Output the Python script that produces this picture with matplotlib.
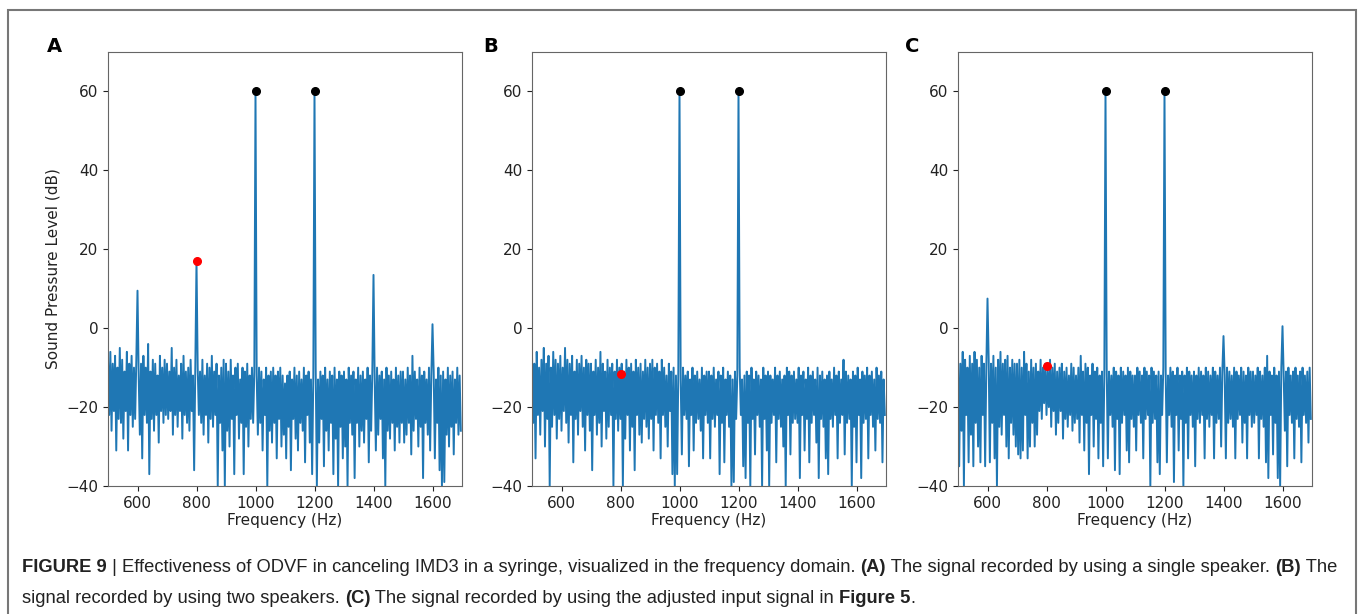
import matplotlib
matplotlib.use('Agg')
import matplotlib.pyplot as plt
from matplotlib.patches import Rectangle
import numpy as np

# noise floor (dB), 4 Hz steps from 500 Hz, one row per 200 Hz
noise_a = [
    -8, -22, -6, -26, -9, -21, -7, -31, -10, -23, -5, -24, -8, -28, -11, -21, -6, -31, -9, -22, -7, -25, -10, -23, -8,
    -22, -12, -27, -9, -33, -7, -22, -10, -24, -4, -37, -11, -23, -8, -26, -9, -22, -12, -29, -7, -21, -10, -24, -8, -22,
    -9, -23, -11, -21, -5, -27, -10, -22, -8, -25, -12, -21, -9, -28, -7, -22, -11, -24, -10, -26, -8, -21, -12, -36, -9,
    -23, -10, -22, -11, -24, -8, -27, -12, -22, -9, -29, -10, -23, -7, -25, -11, -22, -9, -40, -12, -24, -10, -31, -8, -40,
    -9, -26, -11, -30, -8, -23, -12, -37, -10, -22, -9, -28, -13, -24, -10, -37, -11, -25, -9, -30, -12, -23, -10, -24, -11,
    -38, -12, -27, -10, -24, -11, -31, -13, -22, -10, -40, -12, -26, -11, -29, -10, -24, -12, -33, -11, -23, -10, -30, -12, -27,
    -14, -33, -12, -25, -11, -36, -13, -23, -10, -28, -12, -31, -11, -24, -13, -26, -10, -34, -12, -22, -11, -29, -13, -37, -12,
    -24, -10, -40, -13, -29, -11, -23, -12, -35, -10, -26, -13, -31, -11, -24, -12, -37, -10, -28, -13, -40, -11, -25, -12, -33,
    -11, -30, -13, -40, -10, -24, -12, -27, -11, -38, -13, -24, -10, -30, -12, -26, -11, -29, -13, -23, -10, -34, -12, -26, -11,
    -25, -13, -31, -10, -27, -12, -23, -11, -33, -13, -40, -10, -26, -12, -28, -11, -24, -13, -31, -10, -25, -12, -29, -11, -24,
    -11, -29, -13, -27, -10, -24, -12, -32, -7, -26, -11, -23, -13, -30, -10, -25, -12, -38, -11, -24, -13, -27, -10, -31, -12,
    -26, -11, -33, -13, -24, -10, -36, -12, -40, -11, -39, -13, -27, -10, -30, -12, -25, -11, -32, -13, -24, -10, -27, -12, -26,
]
noise_b = [
    -7, -24, -9, -33, -6, -22, -10, -27, -8, -21, -5, -30, -9, -23, -7, -40, -10, -25, -6, -22, -8, -28, -9, -23, -7,
    -26, -10, -21, -5, -24, -8, -29, -9, -22, -7, -34, -11, -23, -8, -27, -9, -21, -7, -25, -10, -31, -8, -22, -9, -26,
    -9, -36, -11, -22, -8, -27, -10, -24, -6, -30, -9, -21, -11, -28, -8, -25, -10, -22, -9, -40, -11, -23, -8, -26, -10,
    -23, -9, -40, -11, -28, -8, -22, -10, -31, -9, -25, -11, -36, -8, -22, -10, -27, -9, -29, -11, -23, -8, -25, -10, -28,
    -9, -23, -8, -31, -10, -22, -9, -24, -11, -33, -8, -22, -10, -25, -12, -30, -9, -21, -11, -37, -10, -40, -12, -37, -11,
    -24, -13, -32, -10, -22, -12, -23, -11, -35, -13, -22, -10, -31, -12, -24, -11, -23, -13, -26, -10, -33, -12, -22, -11, -24,
    -11, -33, -12, -23, -10, -25, -13, -22, -11, -37, -12, -24, -10, -34, -13, -22, -11, -25, -12, -40, -13, -39, -11, -23, -12,
    -24, -10, -22, -13, -35, -12, -38, -11, -24, -12, -40, -10, -23, -13, -32, -11, -22, -12, -25, -13, -40, -10, -23, -12, -31,
    -11, -40, -12, -24, -13, -22, -10, -34, -12, -23, -11, -25, -13, -30, -12, -40, -10, -22, -11, -32, -12, -24, -11, -23, -13,
    -24, -10, -38, -12, -22, -11, -31, -13, -23, -10, -34, -12, -24, -11, -22, -13, -29, -10, -38, -12, -23, -11, -25, -13, -33,
    -12, -37, -11, -23, -13, -25, -10, -22, -12, -33, -11, -24, -13, -22, -8, -32, -11, -24, -12, -23, -13, -40, -11, -25, -12,
    -34, -10, -22, -13, -38, -11, -24, -12, -23, -10, -33, -12, -22, -11, -25, -13, -31, -10, -23, -12, -24, -11, -34, -13, -22,
]
noise_c = [
    -7, -35, -9, -26, -6, -40, -8, -22, -10, -34, -7, -27, -9, -35, -6, -24, -8, -30, -10, -34, -7, -22, -9, -35, -10,
    -30, -8, -34, -9, -24, -7, -33, -10, -40, -8, -25, -6, -27, -9, -22, -8, -30, -7, -33, -10, -24, -8, -27, -9, -30,
    -9, -32, -8, -33, -10, -31, -6, -22, -9, -33, -11, -30, -8, -24, -10, -30, -9, -27, -11, -21, -8, -23, -10, -19, -9,
    -22, -11, -20, -8, -25, -10, -21, -9, -27, -11, -24, -10, -21, -9, -28, -11, -23, -10, -25, -12, -22, -9, -26, -10, -24,
    -12, -23, -10, -29, -7, -22, -11, -31, -9, -24, -10, -37, -12, -22, -9, -30, -11, -23, -10, -33, -12, -24, -11, -35, -12,
    -23, -10, -33, -11, -22, -12, -25, -10, -36, -11, -23, -12, -37, -10, -24, -11, -22, -12, -31, -10, -34, -11, -23, -12, -25,
    -12, -31, -10, -22, -11, -24, -12, -33, -10, -23, -11, -22, -12, -40, -10, -24, -11, -23, -12, -34, -11, -37, -12, -22, -10,
    -23, -11, -34, -12, -22, -10, -25, -11, -39, -12, -22, -10, -31, -12, -23, -11, -40, -12, -24, -10, -33, -11, -22, -12, -25,
    -11, -35, -12, -23, -10, -24, -11, -22, -12, -33, -10, -23, -11, -25, -12, -22, -10, -33, -11, -24, -12, -23, -10, -30, -11,
    -22, -12, -33, -10, -24, -11, -23, -12, -25, -10, -33, -11, -23, -12, -22, -10, -29, -11, -24, -12, -33, -10, -22, -11, -25,
    -11, -24, -12, -22, -10, -33, -11, -23, -12, -25, -10, -34, -7, -38, -11, -22, -12, -32, -10, -24, -12, -38, -11, -40, -10,
    -23, -12, -26, -11, -35, -10, -22, -12, -24, -11, -33, -10, -23, -12, -25, -11, -34, -10, -22, -12, -24, -11, -29, -10, -23,
]

# tonal peaks (Hz, dB)
tones_a = [600, 800, 1000, 1200, 1400, 1600]
levels_a = [9.5, 17, 60, 60, 13.5, 1]
tones_b = [1000, 1200]
levels_b = [60, 60]
tones_c = [600, 1000, 1200, 1400, 1600]
levels_c = [7.5, 60, 60, -2, 0.5]

# marked points: input tones (black) and IMD3 product at 800 Hz (red)
fund_freqs = [1000, 1200]
fund_levels = [60, 60]
imd3_freq = 800
imd3_levels = [17, -11.5, -9.5]

panels = [
    ('A', noise_a, tones_a, levels_a),
    ('B', noise_b, tones_b, levels_b),
    ('C', noise_c, tones_c, levels_c),
]

fig = plt.figure(figsize=(13.58, 6.14), dpi=100)

# outer frame of the figure box
fig.patches.append(Rectangle((8 / 1358, -0.05), 1348 / 1358, 1.05 - 10 / 614,
                             transform=fig.transFigure, fill=False,
                             edgecolor='#777777', linewidth=1.5))

lefts = [108, 532, 958]
letter_x = [47, 483, 905]
for i, (name, noise, tones, levels) in enumerate(panels):
    assert len(noise) == 300, (name, len(noise))
    freq = 500 + 4 * np.arange(len(noise))
    ax = fig.add_axes([lefts[i] / 1358, 1 - 486 / 614, 354 / 1358, 434 / 614])
    y = np.array(noise, dtype=float)
    for f, lv in zip(tones, levels):
        y[np.argmin(np.abs(freq - f))] = lv
    ax.plot(freq, y, color='#1f77b4', linewidth=1.4)
    ax.plot(fund_freqs, fund_levels, 'o', color='black', markersize=5.5)
    ax.plot([imd3_freq], [imd3_levels[i]], 'o', color='red', markersize=5.5)
    ax.set_xlim(500, 1700)
    ax.set_ylim(-40, 70)
    ax.set_xticks([600, 800, 1000, 1200, 1400, 1600])
    ax.set_yticks([-40, -20, 0, 20, 40, 60])
    ax.tick_params(labelsize=11, colors='#222222', length=3.5)
    for s in ax.spines.values():
        s.set_color('#666666')
    ax.set_xlabel('Frequency (Hz)', fontsize=11, color='#222222', labelpad=2)
    if i == 0:
        ax.set_ylabel('Sound Pressure Level (dB)', fontsize=11, color='#222222')
    fig.text(letter_x[i] / 1358, 1 - 52 / 614, name, fontsize=14, fontweight='bold',
             ha='left', va='baseline')

# caption with bold runs
cap_lines = [
    [('FIGURE 9', True), (' | Effectiveness of ODVF in canceling IMD3 in a syringe, visualized in the frequency domain. ', False),
     ('(A)', True), (' The signal recorded by using a single speaker. ', False), ('(B)', True), (' The', False)],
    [('signal recorded by using two speakers. ', False), ('(C)', True),
     (' The signal recorded by using the adjusted input signal in ', False), ('Figure 5', True), ('.', False)],
]
renderer = fig.canvas.get_renderer()
for row, baseline in zip(cap_lines, [572, 603]):
    x = 22
    for txt, bold in row:
        t = fig.text(x / 1358, 1 - baseline / 614, txt, fontsize=13.25, family='Liberation Sans',
                     fontweight='bold' if bold else 'normal', color='#222222',
                     ha='left', va='baseline')
        x += t.get_window_extent(renderer).width

fig.savefig('out.png', dpi=100)
